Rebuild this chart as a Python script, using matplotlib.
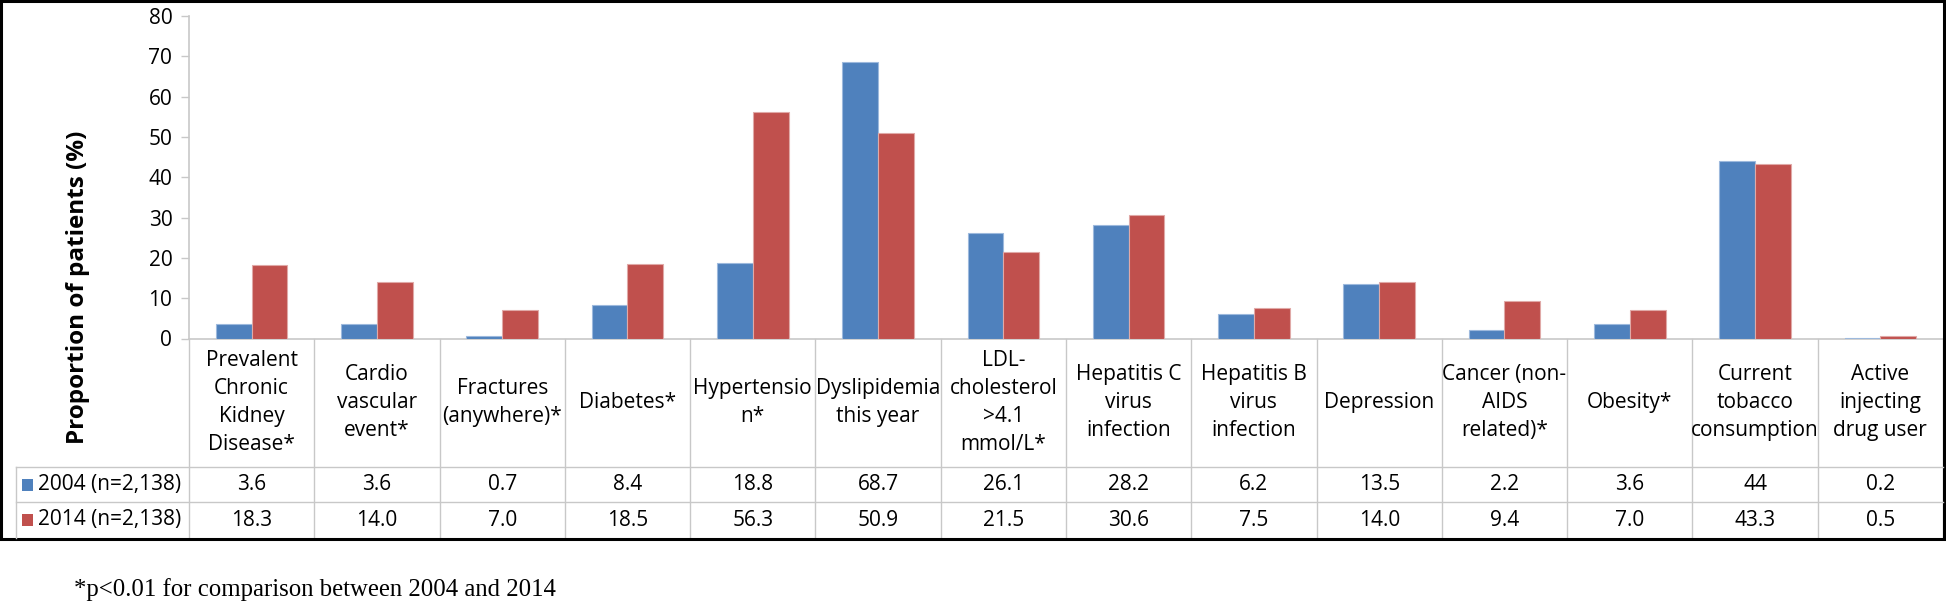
import matplotlib
matplotlib.use("Agg")
import matplotlib.pyplot as plt
from matplotlib.patches import Rectangle
from matplotlib.lines import Line2D
from matplotlib.transforms import blended_transform_factory

plt.rcParams['font.family'] = ['Open Sans', 'DejaVu Sans']

# data
categories = [
    "Prevalent\nChronic\nKidney\nDisease*",
    "Cardio\nvascular\nevent*",
    "Fractures\n(anywhere)*",
    "Diabetes*",
    "Hypertensio\nn*",
    "Dyslipidemia\nthis year",
    "LDL-\ncholesterol\n>4.1\nmmol/L*",
    "Hepatitis C\nvirus\ninfection",
    "Hepatitis B\nvirus\ninfection",
    "Depression",
    "Cancer (non-\nAIDS\nrelated)*",
    "Obesity*",
    "Current\ntobacco\nconsumption",
    "Active\ninjecting\ndrug user",
]
series_names = ["2004 (n=2,138)", "2014 (n=2,138)"]
# values as printed in the table under the chart
values_2004 = ["3.6", "3.6", "0.7", "8.4", "18.8", "68.7", "26.1", "28.2", "6.2", "13.5", "2.2", "3.6", "44", "0.2"]
values_2014 = ["18.3", "14.0", "7.0", "18.5", "56.3", "50.9", "21.5", "30.6", "7.5", "14.0", "9.4", "7.0", "43.3", "0.5"]
y_ticks = [0, 10, 20, 30, 40, 50, 60, 70, 80]
footnote = "*p<0.01 for comparison between 2004 and 2014"

colors = ["#4F81BD", "#C0504D"]
edges = ["#9DB9DD", "#E0A9A7"]
grid_col = "#C8C8C8"

W, H = 1946, 605
fig = plt.figure(figsize=(W / 100, H / 100), dpi=100)

# axes placed in pixels (left, y of 0, right, y of 80)
x_left, x_right, y_zero, y_top = 189, 1943, 338.5, 16
ax = fig.add_axes([x_left / W, 1 - y_zero / H, (x_right - x_left) / W, (y_zero - y_top) / H])

n = len(categories)
bw = 1 / 3.5  # excel gap width 150%
xs = list(range(n))
for k, vals in enumerate([values_2004, values_2014]):
    off = (k - 0.5) * bw
    ax.bar([x + off for x in xs], [float(v) for v in vals], width=bw,
           color=colors[k], edgecolor=edges[k], linewidth=0.8, zorder=3)

ax.set_xlim(-0.5, n - 0.5)
ax.set_ylim(0, 80)
ax.set_yticks(y_ticks)
ax.set_xticks([])
for s in ["top", "right"]:
    ax.spines[s].set_visible(False)
for s in ["left", "bottom"]:
    ax.spines[s].set_color(grid_col)
    ax.spines[s].set_linewidth(1.2)
ax.tick_params(axis="y", direction="out", length=6, width=1, color=grid_col,
               labelsize=15, pad=6)
ax.set_ylabel("Proportion of patients (%)", fontsize=17.5, fontweight="bold")
ax.yaxis.set_label_coords(90 / W, 1 - 287 / H, transform=fig.transFigure)

# data table below the axes
def ya(py):
    return (y_zero - py) / (y_zero - y_top)

tr = blended_transform_factory(ax.transData, ax.transAxes)
row_lines = [467, 502]
tab_bottom = 538
legend_left = 16

for i in range(n + 1):
    ax.add_line(Line2D([i - 0.5, i - 0.5], [0, ya(tab_bottom)], transform=tr,
                       color=grid_col, lw=1, clip_on=False))
for py in row_lines:
    fig.add_artist(Line2D([legend_left / W, x_right / W], [1 - py / H, 1 - py / H],
                          color=grid_col, lw=1))
fig.add_artist(Line2D([legend_left / W, legend_left / W], [1 - row_lines[0] / H, 1 - tab_bottom / H],
                      color=grid_col, lw=1))

for i, lab in enumerate(categories):
    ax.text(i, ya(402.5), lab, transform=tr, ha="center", va="center",
            fontsize=15, linespacing=1.44)

row_centers = [484.5, 520]
for k, vals in enumerate([values_2004, values_2014]):
    for i, v in enumerate(vals):
        ax.text(i, ya(row_centers[k]), v, transform=tr, ha="center", va="center", fontsize=15)
    yc = row_centers[k]
    fig.add_artist(Rectangle((22 / W, 1 - (yc + 6) / H), 11 / W, 12 / H,
                             facecolor=colors[k], edgecolor="none"))
    fig.text(38 / W, 1 - yc / H, series_names[k], ha="left", va="center", fontsize=15)

# outer frame around chart + table
fig.add_artist(Rectangle((1 / W, 1 - 539 / H), 1943 / W, 538 / H, fill=False,
                         edgecolor="black", linewidth=2.2))

fig.text(74 / W, 1 - 590 / H, footnote, ha="left", va="center",
         family="Liberation Serif", fontsize=17.8)

fig.savefig("out.png", dpi=100)
